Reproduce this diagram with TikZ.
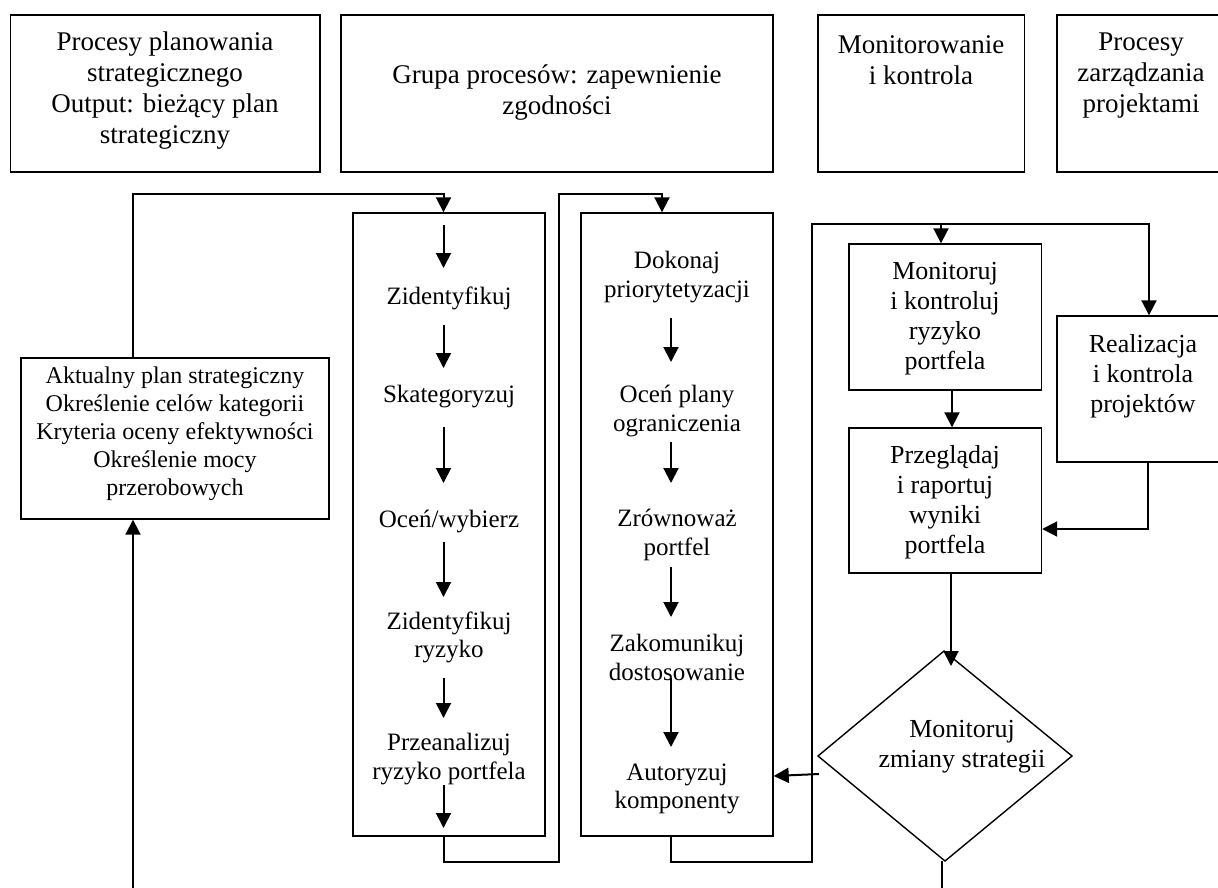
\documentclass[tikz,border=0pt]{standalone}
\usepackage{fontspec}
\setmainfont{Liberation Serif}
\usetikzlibrary{arrows.meta}
\begin{document}
\begin{tikzpicture}[x=1pt,y=-1pt,
 box/.style={draw, line width=1.4pt, inner sep=0pt},
 conn/.style={line width=2pt},
 arr/.style={line width=2pt,-{Triangle[width=15pt,length=15pt]}},
 tbig/.style={align=center,inner sep=0pt,font=\fontsize{27}{31}\selectfont},
 tcol/.style={align=center,inner sep=0pt,font=\fontsize{25}{28.5}\selectfont},
 tleft/.style={align=center,inner sep=0pt,font=\fontsize{24}{28}\selectfont},
 tright/.style={align=center,inner sep=0pt,font=\fontsize{26}{30}\selectfont},
]
\useasboundingbox (0,0) rectangle (1218,888);
\clip (0,0) rectangle (1218,888);

% top boxes
\node[box, minimum width=309.5pt, minimum height=157pt] (top1) at (165.25,93.5) {};
\node[box, minimum width=432pt, minimum height=157pt] (top2) at (557,93.5) {};
\node[box, minimum width=206.5pt, minimum height=157pt] (top3) at (921.25,93.5) {};
\node[box, minimum width=170pt, minimum height=157pt] (top4) at (1142,93.5) {};
\node[tbig] (t1) at (165,91) {Procesy planowania\\strategicznego\\Output: bieżący plan\\strategiczny};
\node[tbig] (t2) at (557,93) {Grupa procesów: zapewnienie\\zgodności};
\node[tbig] (t3) at (921,60) {Monitorowanie\\i kontrola};
\node[tbig] (t4) at (1141,76) {Procesy\\zarządzania\\projektami};

% left box
\node[box, minimum width=308pt, minimum height=161pt] (left) at (175,438.5) {};
\node[tleft] (tl) at (175,434) {Aktualny plan strategiczny\\Określenie celów kategorii\\Kryteria oceny efektywności\\Określenie mocy\\przerobowych};

% columns
\node[box, minimum width=192pt, minimum height=623pt] (col1) at (449,524.5) {};
\node[box, minimum width=192pt, minimum height=623pt] (col2) at (677,524.5) {};

\node[tcol] (a1) at (449,298) {Zidentyfikuj};
\node[tcol] (a2) at (449,397) {Skategoryzuj};
\node[tcol] (a3) at (449,522) {Oceń/wybierz};
\node[tcol] (a4) at (449,637.5) {Zidentyfikuj\\ryzyko};
\node[tcol] (a5) at (449,759) {Przeanalizuj\\ryzyko portfela};

\node[tcol] (b1) at (677,277) {Dokonaj\\priorytetyzacji};
\node[tcol] (b2) at (677,411) {Oceń plany\\ograniczenia};
\node[tcol] (b3) at (677,535) {Zrównoważ\\portfel};
\node[tcol] (b4) at (677,657.5) {Zakomunikuj\\dostosowanie};
\node[tcol] (b5) at (677,789) {Autoryzuj\\komponenty};

% right boxes
\node[box, minimum width=192.5pt, minimum height=146pt] (mon) at (945.25,317) {};
\node[tright] (tmon) at (945,319) {Monitoruj\\i kontroluj\\ryzyko\\portfela};
\node[box, minimum width=192.5pt, minimum height=145pt] (prz) at (945.25,500.5) {};
\node[tright] (tprz) at (945,502) {Przeglądaj\\i raportuj\\wyniki\\portfela};
\node[box, minimum width=172pt, minimum height=146pt] (real) at (1143,389) {};
\node[tright] (treal) at (1143,376) {Realizacja\\i kontrola\\projektów};

% diamond
\coordinate (dtop) at (944,651);
\coordinate (dright) at (1072,756);
\coordinate (dbot) at (945,861);
\coordinate (dleft) at (818,756);
\draw[line width=1.4pt] (dtop) -- (dright) -- (dbot) -- (dleft) -- cycle;
\node[tright] (tdia) at (962,747) {Monitoruj\\zmiany strategii};

% arrows inside column 1
\coordinate (p1s) at (443.5,225); \coordinate (p1e) at (443.5,268);
\coordinate (p2s) at (443.5,325); \coordinate (p2e) at (443.5,368);
\coordinate (p3s) at (443.5,427); \coordinate (p3e) at (443.5,483);
\coordinate (p4s) at (443.5,542); \coordinate (p4e) at (443.5,597);
\coordinate (p5s) at (443.5,678); \coordinate (p5e) at (443.5,718);
\coordinate (p6s) at (443.5,785); \coordinate (p6e) at (443.5,828);
\draw[arr] (p1s) -- (p1e);
\draw[arr] (p2s) -- (p2e);
\draw[arr] (p3s) -- (p3e);
\draw[arr] (p4s) -- (p4e);
\draw[arr] (p5s) -- (p5e);
\draw[arr] (p6s) -- (p6e);

% arrows inside column 2
\coordinate (q1s) at (671,318); \coordinate (q1e) at (671,362);
\coordinate (q2s) at (671,442); \coordinate (q2e) at (671,483);
\coordinate (q3s) at (671,567); \coordinate (q3e) at (671,617);
\coordinate (q4s) at (671,678); \coordinate (q4e) at (671,747);
\draw[arr] (q1s) -- (q1e);
\draw[arr] (q2s) -- (q2e);
\draw[arr] (q3s) -- (q3e);
\draw[arr] (q4s) -- (q4e);

% left box -> column 1
\draw[arr] (left.north -| 133,0) |- (443.5,194) -- (col1.north -| 443.5,0);
% column 1 -> column 2
\draw[arr] (col1.south -| 443.5,0) -- (443.5,862) -| (558.5,194) -| (col2.north -| 662,0);
% column 2 -> monitoring
\draw[arr] (col2.south -| 671,0) -- (671,862) -| (811.5,223.5) -| (real.north -| 1149,0);
\draw[arr] (941,223.5) -- (mon.north -| 941,0);
\draw[arr] (mon.south -| 952,0) -- (prz.north -| 952,0);
\draw[arr] (real.south -| 1148,0) |- (prz.east |- 0,529);
\draw[arr] (prz.south -| 951,0) -- (951,666);
\draw[arr] (819,774) -- (col2.east |- 0,776);
\coordinate (bot1) at (942,888);
\draw[conn] (dbot -| 942,0) -- (bot1);
\coordinate (bot2) at (133,888);
\draw[arr] (bot2) -- (left.south -| 133,0);
\end{tikzpicture}
\end{document}
